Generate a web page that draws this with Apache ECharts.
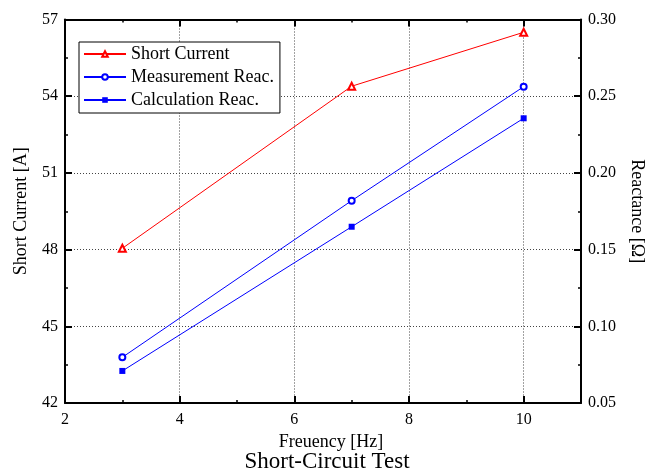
<!DOCTYPE html>
<html>
<head>
<meta charset="utf-8">
<script src="https://cdn.jsdelivr.net/npm/echarts@6/dist/echarts.min.js"></script>
<style>
html,body{margin:0;padding:0;background:#fff;}
#chart{width:654px;height:476px;}
</style>
</head>
<body>
<div id="chart"></div>
<script>
const frequency = [3, 7, 10];
const shortCurrent = [48.05, 54.39, 56.5];
const measurementReac = [0.0798, 0.1819, 0.2562];
const calculationReac = [0.0709, 0.1649, 0.2356];
const seriesNames = ['Short Current', 'Measurement Reac.', 'Calculation Reac.'];

const FONT = '"Liberation Serif", "Times New Roman", serif';
const pairs = (ys) => frequency.map((x, i) => [x, ys[i]]);

const chart = echarts.init(document.getElementById('chart'), null, {renderer: 'canvas'});
const axisLine = {show: true, onZero: false, lineStyle: {color: '#000', width: 2}};
const grid = {left: 65, right: 67, top: 19.5, bottom: 73};
const dotted = {show: true, lineStyle: {color: '#444', width: 1, type: [1, 2]}};

chart.setOption({
  animation: false,
  backgroundColor: '#fff',
  title: {
    text: 'Short-Circuit Test',
    left: 'center',
    top: 450,
    padding: [0, 0, 0, 4],
    textStyle: {fontFamily: FONT, fontSize: 23, fontWeight: 'normal', color: '#000'}
  },
  grid: grid,
  legend: {
    orient: 'vertical',
    left: 79,
    top: 42,
    padding: [3, 6, 4, 4],
    itemGap: 5,
    itemWidth: 42,
    itemHeight: 7,
    borderColor: '#000',
    borderWidth: 1,
    backgroundColor: '#fff',
    data: seriesNames,
    textStyle: {fontFamily: FONT, fontSize: 18, color: '#000'}
  },
  xAxis: [{
    type: 'value',
    min: 2, max: 11, interval: 2,
    position: 'bottom',
    name: 'Freuency [Hz]',
    nameLocation: 'middle',
    nameGap: 28,
    nameTextStyle: {fontFamily: FONT, fontSize: 18, color: '#000', padding: [0, 0, 0, 16]},
    axisLine: axisLine,
    axisTick: {show: true, inside: true, length: 7, lineStyle: {color: '#000', width: 2}},
    minorTick: {show: true, splitNumber: 2, length: 3, lineStyle: {color: '#000', width: 1.5}},
    axisLabel: {fontFamily: FONT, fontSize: 16, color: '#000', margin: 9, showMaxLabel: false},
    splitLine: dotted
  }, {
    type: 'value',
    min: 2, max: 11, interval: 2,
    position: 'top',
    axisLine: axisLine,
    axisTick: {show: true, inside: true, length: 7, lineStyle: {color: '#000', width: 2}},
    minorTick: {show: true, splitNumber: 2, length: 3, lineStyle: {color: '#000', width: 1.5}},
    axisLabel: {show: false},
    splitLine: {show: false}
  }],
  yAxis: [{
    type: 'value',
    min: 42, max: 57, interval: 3,
    position: 'left',
    name: 'Short Current [A]',
    nameLocation: 'middle',
    nameGap: 35,
    nameRotate: 90,
    nameTextStyle: {fontFamily: FONT, fontSize: 18, color: '#000'},
    axisLine: axisLine,
    axisTick: {show: true, inside: true, length: 7, lineStyle: {color: '#000', width: 2}},
    minorTick: {show: true, splitNumber: 2, length: 3, lineStyle: {color: '#000', width: 1.5}},
    axisLabel: {fontFamily: FONT, fontSize: 16, color: '#000', margin: 7},
    splitLine: dotted
  }, {
    type: 'value',
    min: 0.05, max: 0.30, interval: 0.05,
    position: 'right',
    name: 'Reactance [Ω]',
    nameLocation: 'middle',
    nameGap: 47,
    nameRotate: -90,
    nameTextStyle: {fontFamily: FONT, fontSize: 18, color: '#000'},
    axisLine: axisLine,
    axisTick: {show: true, inside: true, length: 7, lineStyle: {color: '#000', width: 2}},
    minorTick: {show: true, splitNumber: 2, length: 3, lineStyle: {color: '#000', width: 1.5}},
    axisLabel: {fontFamily: FONT, fontSize: 16, color: '#000', margin: 7,
      formatter: v => v.toFixed(2)},
    splitLine: {show: false}
  }],
  series: [{
    name: seriesNames[0],
    type: 'line',
    xAxisIndex: 0, yAxisIndex: 0,
    data: pairs(shortCurrent),
    symbol: 'emptyTriangle',
    symbolSize: 7,
    lineStyle: {color: '#ff0000', width: 1},
    itemStyle: {color: '#ff0000', borderColor: '#ff0000', borderWidth: 1}
  }, {
    name: seriesNames[1],
    type: 'line',
    xAxisIndex: 0, yAxisIndex: 1,
    data: pairs(measurementReac),
    symbol: 'emptyCircle',
    symbolSize: 6,
    lineStyle: {color: '#0000ff', width: 1},
    itemStyle: {color: '#0000ff', borderColor: '#0000ff', borderWidth: 1}
  }, {
    name: seriesNames[2],
    type: 'line',
    xAxisIndex: 0, yAxisIndex: 1,
    data: pairs(calculationReac),
    symbol: 'rect',
    symbolSize: 6,
    lineStyle: {color: '#0000ff', width: 1},
    itemStyle: {color: '#0000ff'}
  }]
});
</script>
</body>
</html>
